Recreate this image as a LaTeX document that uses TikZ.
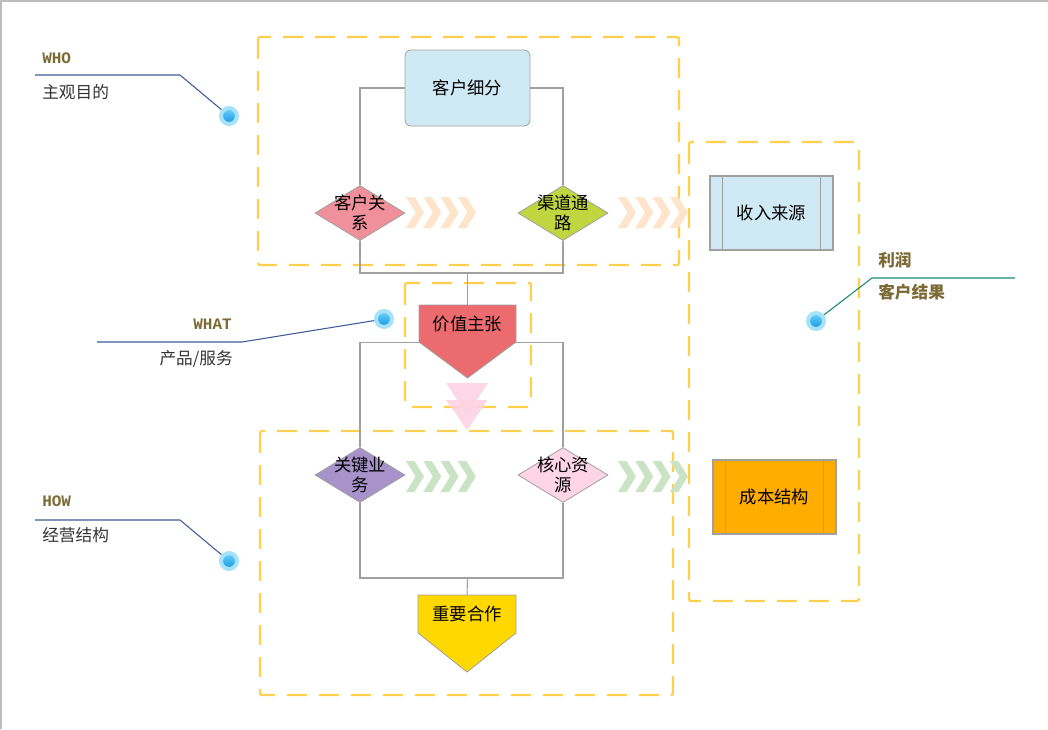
\documentclass[tikz,border=0pt]{standalone}
\usepackage{fontspec}
\setmainfont{Noto Sans CJK SC}
\newfontfamily\monofam{Liberation Mono}
\usetikzlibrary{shapes.geometric}
\definecolor{lgray}{HTML}{A0A0A0}
\definecolor{fgray}{HTML}{BDBDBD}
\definecolor{ydash}{HTML}{FFD04D}
\definecolor{segc}{HTML}{CFE9F5}
\definecolor{crmc}{HTML}{F0909A}
\definecolor{chc}{HTML}{BFD641}
\definecolor{kbc}{HTML}{A793CA}
\definecolor{krc}{HTML}{FDD5E4}
\definecolor{revc}{HTML}{D0EAF5}
\definecolor{costc}{HTML}{FFAD00}
\definecolor{vpc}{HTML}{EB6B6F}
\definecolor{kpc}{HTML}{FFD800}
\definecolor{chevt}{HTML}{FDE4CA}
\definecolor{chevb}{HTML}{C9E3C4}
\definecolor{tric}{HTML}{FDD3E2}
\definecolor{halo}{HTML}{A6E3FA}
\definecolor{dotl}{HTML}{6FD2FA}
\definecolor{dotd}{HTML}{1397E0}
\definecolor{bluel}{HTML}{3E5B98}
\definecolor{teall}{HTML}{178A74}
\definecolor{olive}{HTML}{7B6A35}
\definecolor{captxt}{HTML}{333333}
\tikzset{
  conn/.style={draw=lgray, line width=0.8pt},
  ybox/.style={draw=ydash, line width=1.7pt, dash pattern=on 15pt off 9pt, rounded corners=1.5pt},
  dia/.style={diamond, draw=lgray, line width=0.6pt, minimum width=67.5pt, minimum height=41.25pt, inner sep=0pt},
  lbl/.style={font=\fontsize{13}{15}\selectfont, align=center, text=black, inner sep=0pt},
  proc/.style={rectangle, draw=lgray, line width=0.9pt, minimum width=92.25pt, minimum height=55.5pt, inner sep=0pt, font=\fontsize{13}{15}\selectfont},
  procline/.style={draw=lgray, line width=0.9pt},
  pent/.style={draw=lgray, line width=0.6pt},
  chev/.pic={\fill (0,0) -- (8.5,0) -- (18,15.5) -- (8.5,31) -- (0,31) -- (9.5,15.5) -- cycle;},
  dot/.style={circle, inner sep=0pt, minimum size=12pt, draw=halo, line width=3pt, top color=dotl, bottom color=dotd},
  monot/.style={font=\monofam\bfseries\fontsize{12}{14}\selectfont, text=olive, inner sep=0pt},
  capt/.style={font=\fontsize{12.5}{15}\selectfont, text=captxt, inner sep=0pt},
  boldt/.style={font=\bfseries\fontsize{12.5}{15}\selectfont, text=olive, inner sep=0pt},
}
\begin{document}
\begin{tikzpicture}[x=0.75pt,y=-0.75pt]
\useasboundingbox (0,0) rectangle (1048,729);
% outer frame (top and left)
\draw[fgray, line width=1.5pt] (0.5,729) -- (0.5,0.5) -- (1048,0.5);

% dashed boxes
\draw[ybox] (258,37) rectangle (679,265);
\draw[ybox] (405,283) rectangle (531,407);
\draw[ybox] (260,431) rectangle (673,695);
\draw[ybox] (689,142) rectangle (859,601);

% pentagon shapes
\fill[vpc] (419,305) -- (516,305) -- (516,342) -- (467.5,378) -- (419,342) -- cycle;
\draw[pent] (419,305) -- (516,305) -- (516,342) -- (467.5,378) -- (419,342) -- cycle;
\fill[kpc] (418,595) -- (516,595) -- (516,633) -- (467,672) -- (418,633) -- cycle;
\draw[pent] (418,595) -- (516,595) -- (516,633) -- (467,672) -- (418,633) -- cycle;

% pink triangles
\fill[tric, opacity=0.9] (446,383) -- (488,383) -- (467,415) -- cycle;
\fill[tric, opacity=0.9] (446,400) -- (488,400) -- (467,430) -- cycle;

% nodes
\node[lbl, rectangle, rounded corners=4.5pt, draw=lgray, line width=0.6pt, fill=segc, minimum width=93.75pt, minimum height=57pt] (seg) at (467.5,88) {客户细分};
\node[dia, fill=crmc] (crm) at (360,213) {};
\node[lbl] (crmt) at (360,213) {客户关\\系};
\node[dia, fill=chc] (ch) at (563,213) {};
\node[lbl] (cht) at (563,213) {渠道通\\路};
\node[dia, fill=kbc] (kb) at (360,475) {};
\node[lbl] (kbt) at (360,475) {关键业\\务};
\node[dia, fill=krc] (kr) at (563,475) {};
\node[lbl] (krt) at (563,475) {核心资\\源};
\node[lbl, minimum width=72.75pt, minimum height=27.75pt] (vp) at (467.5,323.5) {价值主张};
\node[lbl, minimum width=73.5pt, minimum height=28.5pt] (kp) at (467,614) {重要合作};

\node[proc, fill=revc] (rev) at (771.5,213) {收入来源};
\draw[procline] ([xshift=10pt]rev.north west) -- ([xshift=10pt]rev.south west);
\draw[procline] ([xshift=-10pt]rev.north east) -- ([xshift=-10pt]rev.south east);
\node[proc, fill=costc] (cost) at (774.5,497) {成本结构};
\draw[procline] ([xshift=10pt]cost.north west) -- ([xshift=10pt]cost.south west);
\draw[procline] ([xshift=-10pt]cost.north east) -- ([xshift=-10pt]cost.south east);

% connectors
\coordinate (jt) at (467.5,273);
\coordinate (jb) at (467.5,578);
\draw[conn] (seg.west) -| (crm.north);
\draw[conn] (seg.east) -| (ch.north);
\draw[conn] (crm.south) |- (jt) -| (ch.south);
\draw[conn] (jt) -- (vp.north);
\draw[conn] (vp.south west) -| (kb.north);
\draw[conn] (vp.south east) -| (kr.north);
\draw[conn] (kb.south) |- (jb) -| (kr.south);
\draw[conn] (jb) -- (kp.north);

% chevrons
\foreach \cx in {406,423.3,440.6,457.9} {\pic[fill=chevt] at (\cx,197) {chev};}
\foreach \cx in {618,635.3,652.6,669.9} {\pic[fill=chevt] at (\cx,197) {chev};}
\foreach \cx in {406,423.3,440.6,457.9} {\pic[fill=chevb] at (\cx,461) {chev};}
\foreach \cx in {618,635.3,652.6,669.9} {\pic[fill=chevb] at (\cx,461) {chev};}

% callouts
\node[dot] (whodot) at (229,116) {};
\coordinate (whoA) at (35,75);
\coordinate (whoB) at (180,75);
\draw[bluel, line width=0.8pt] (whoA) -- (whoB) -- (whodot);
\node[monot, anchor=west] (who) at (42,58) {WHO};
\node[capt, anchor=west] (whot) at (42,92) {主观目的};

\node[dot] (whatdot) at (384,319) {};
\coordinate (whatA) at (97,342);
\coordinate (whatB) at (242,342);
\draw[bluel, line width=0.8pt] (whatA) -- (whatB) -- (whatdot);
\node[monot, anchor=east] (what) at (232,324) {WHAT};
\node[capt, anchor=east] (whatt) at (233,359) {产品/服务};

\node[dot] (howdot) at (229,561) {};
\coordinate (howA) at (35,520);
\coordinate (howB) at (180,520);
\draw[bluel, line width=0.8pt] (howA) -- (howB) -- (howdot);
\node[monot, anchor=west] (how) at (42,501) {HOW};
\node[capt, anchor=west] (howt) at (42,535) {经营结构};

\node[dot] (prdot) at (816,321) {};
\coordinate (prA) at (1015,278);
\coordinate (prB) at (872,278);
\draw[teall, line width=0.8pt] (prA) -- (prB) -- (prdot);
\node[boldt, anchor=west] (pr) at (878,260) {利润};
\node[boldt, anchor=west] (prt) at (878,292) {客户结果};
\end{tikzpicture}
\end{document}
